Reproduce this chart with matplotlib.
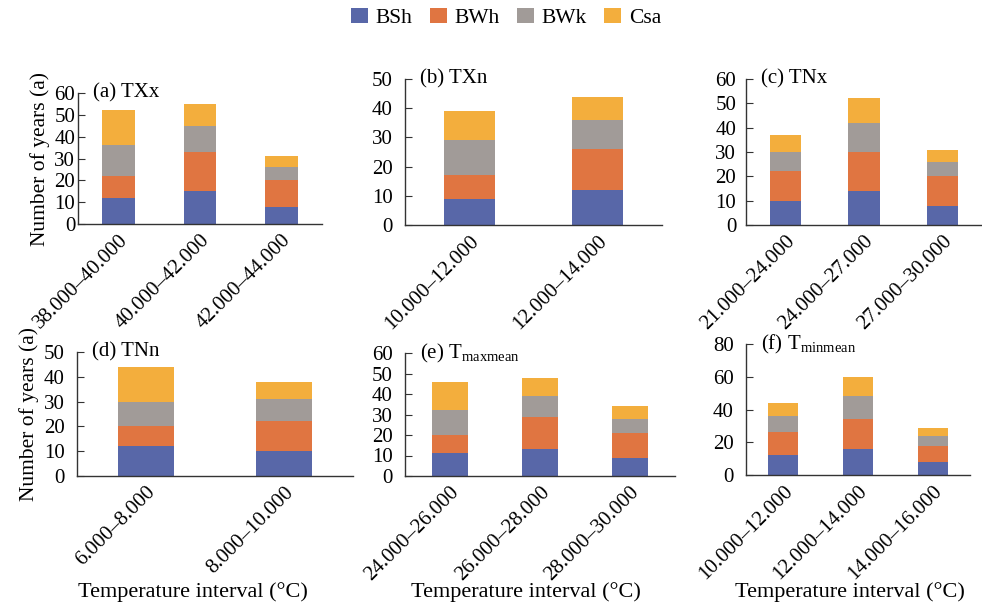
import numpy as np
import matplotlib
matplotlib.use('Agg')
import matplotlib.pyplot as plt

plt.rcParams['font.family'] = ['Liberation Serif', 'DejaVu Serif']
plt.rcParams['mathtext.fontset'] = 'custom'
plt.rcParams['mathtext.rm'] = 'Liberation Serif'

climates = ['BSh', 'BWh', 'BWk', 'Csa']
colors = ['#5867a8', '#e07541', '#a19b98', '#f3ae3d']

# panel (a) TXx
cats_a = ['38.000\u201340.000', '40.000\u201342.000', '42.000\u201344.000']
vals_a = [[12, 15, 8], [10, 18, 12], [14, 12, 6], [16, 10, 5]]
# panel (b) TXn
cats_b = ['10.000\u201312.000', '12.000\u201314.000']
vals_b = [[9, 12], [8, 14], [12, 10], [10, 8]]
# panel (c) TNx
cats_c = ['21.000\u201324.000', '24.000\u201327.000', '27.000\u201330.000']
vals_c = [[10, 14, 8], [12, 16, 12], [8, 12, 6], [7, 10, 5]]
# panel (d) TNn
cats_d = ['6.000\u20138.000', '8.000\u201310.000']
vals_d = [[12, 10], [8, 12], [10, 9], [14, 7]]
# panel (e) Tmaxmean
cats_e = ['24.000\u201326.000', '26.000\u201328.000', '28.000\u201330.000']
vals_e = [[11, 13, 9], [9, 16, 12], [12, 10, 7], [14, 9, 6]]
# panel (f) Tminmean
cats_f = ['10.000\u201312.000', '12.000\u201314.000', '14.000\u201316.000']
vals_f = [[12, 16, 8], [14, 18, 10], [10, 14, 6], [8, 12, 5]]

W, H = 982, 607
fig = plt.figure(figsize=(W / 100, H / 100), dpi=100)

def px_axes(l, r, t, b):
    return fig.add_axes([l / W, 1 - b / H, (r - l) / W, (b - t) / H])

panels = [
    (px_axes(78, 322, 93, 224), cats_a, vals_a, 60, 10, '(a) TXx', 2),
    (px_axes(405, 662, 79, 225), cats_b, vals_b, 50, 10, '(b) TXn', 9),
    (px_axes(746, 982, 79, 225), cats_c, vals_c, 60, 10, '(c) TNx', 7),
    (px_axes(77, 353, 352, 476), cats_d, vals_d, 50, 10, '(d) TNn', 9),
    (px_axes(405, 675, 353, 476), cats_e, vals_e, 60, 10, r'(e) T$_{\rm maxmean}$', 9),
    (px_axes(746, 970, 344, 475), cats_f, vals_f, 80, 20, r'(f) T$_{\rm minmean}$', 9),
]

for ax, cats, vals, ymax, step, title, ypad in panels:
    x = np.arange(len(cats))
    bottom = np.zeros(len(cats))
    for name, v, c in zip(climates, vals, colors):
        ax.bar(x, v, 0.4, bottom=bottom, color=c, label=name)
        bottom += np.array(v)
    ax.set_xlim(-0.5, len(cats) - 0.5)
    ax.set_ylim(0, ymax)
    ax.set_yticks(np.arange(0, ymax + 1, step))
    ax.set_xticks(x)
    ax.set_xticklabels(cats, rotation=45, ha='right', rotation_mode='anchor')
    for s in ['top', 'right']:
        ax.spines[s].set_visible(False)
    for s in ['left', 'bottom']:
        ax.spines[s].set_color('#333333')
        ax.spines[s].set_linewidth(1.0)
    ax.tick_params(axis='y', direction='in', length=5, color='#333333',
                   labelsize=15, pad=ypad)
    ax.tick_params(axis='x', length=0, labelsize=15, pad=5)
    ax.annotate(title, xy=(0, 1), xycoords='axes fraction',
                xytext=(11, 0), textcoords='offset points',
                ha='left', va='center', fontsize=15)

panels[0][0].set_ylabel('Number of years (a)', fontsize=15.5, labelpad=3)
panels[3][0].set_ylabel('Number of years (a)', fontsize=15.5, labelpad=3)

for cx in [193, 526, 850]:
    fig.text(cx / W, 1 - 592 / H, 'Temperature interval (\u00b0C)',
             ha='center', va='center', fontsize=16)

handles, labels = panels[0][0].get_legend_handles_labels()
fig.legend(handles, labels, loc='center', bbox_to_anchor=(506 / W, 1 - 18 / H),
           ncol=4, frameon=False, fontsize=15.5, handlelength=0.8, handleheight=0.7,
           handletextpad=0.35, columnspacing=0.8)

fig.savefig('out.png', dpi=100)
